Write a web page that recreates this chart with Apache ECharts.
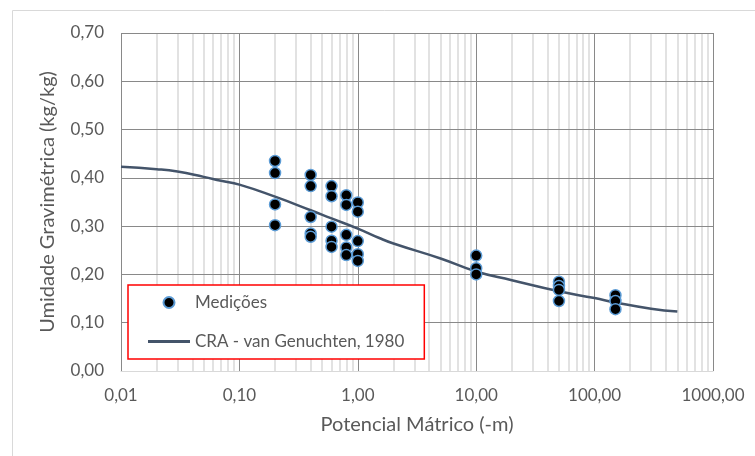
<!DOCTYPE html>
<html>
<head>
<meta charset="utf-8">
<script src="https://cdn.jsdelivr.net/npm/echarts@6/dist/echarts.min.js"></script>
<style>
    html, body { margin: 0; padding: 0; background: #fff; }
    #chart { width: 755px; height: 456px; }
</style>
</head>
<body>
<div id="chart"></div>
<script>
// medições (potencial mátrico x umidade)
var medX = [0.2, 0.2, 0.2, 0.2,
    0.4, 0.4, 0.4, 0.4, 0.4,
    0.6, 0.6, 0.6, 0.6, 0.6,
    0.8, 0.8, 0.8, 0.8, 0.8,
    1, 1, 1, 1, 1,
    10, 10, 10,
    50, 50, 50, 50,
    150, 150, 150];
var medY = [0.435, 0.41, 0.345, 0.302,
    0.406, 0.383, 0.319, 0.285, 0.278,
    0.383, 0.362, 0.299, 0.270, 0.257,
    0.364, 0.344, 0.282, 0.256, 0.240,
    0.349, 0.330, 0.269, 0.242, 0.228,
    0.239, 0.213, 0.200,
    0.185, 0.176, 0.168, 0.145,
    0.157, 0.145, 0.128];

// curva CRA - van Genuchten
var craX = [0.01, 0.02, 0.03, 0.05, 0.07, 0.1, 0.2, 0.4, 0.6, 1, 1.5, 2, 5, 10, 20, 50, 100, 150, 300, 500];
var craY = [0.423, 0.418, 0.413, 0.402, 0.394, 0.386, 0.361, 0.333, 0.316, 0.295, 0.276, 0.264, 0.233, 0.206, 0.188, 0.165, 0.151, 0.142, 0.129, 0.123];

// grade secundária
var decadas = [0.01, 0.1, 1, 10, 100];
var multiplicadores = [2, 3, 4, 5, 6, 7, 8, 9];

var corTexto = '#595959';
var fonte = 'Lato';

var linhasMenores = [];
for (var i = 0; i < decadas.length; i++) {
    for (var j = 0; j < multiplicadores.length; j++) {
        linhasMenores.push({ xAxis: decadas[i] * multiplicadores[j] });
    }
}

var medData = [];
for (var i = 0; i < medX.length; i++) medData.push([medX[i], medY[i]]);
var craData = [];
for (var i = 0; i < craX.length; i++) craData.push([craX[i], craY[i]]);

function fmt(v) {
    return v.toFixed(2).replace('.', ',');
}

var myChart = echarts.init(document.getElementById('chart'));

var option = {
    animation: false,
    textStyle: { fontFamily: fonte },
    graphic: [{
        type: 'rect',
        shape: { x: 12.5, y: 10.5, width: 800, height: 500 },
        style: { fill: 'none', stroke: '#d9d9d9', lineWidth: 1 },
        silent: true
    }],
    grid: {
        left: 121, top: 33, right: 42, bottom: 85,
        outerBoundsMode: 'none'
    },
    legend: {
        orient: 'vertical',
        left: 128,
        top: 285,
        padding: [9, 20, 9, 20],
        itemWidth: 42,
        itemHeight: 11,
        itemGap: 22,
        borderColor: '#ff0000',
        borderWidth: 1.5,
        backgroundColor: '#ffffff',
        textStyle: { color: corTexto, fontSize: 17, fontFamily: fonte },
        data: [
            { name: 'Medições' },
            { name: 'CRA - van Genuchten, 1980', icon: 'path://M0,0H42V3H0Z' }
        ]
    },
    xAxis: {
        type: 'log',
        logBase: 10,
        min: 0.01,
        max: 1000,
        z: 1,
        name: 'Potencial Mátrico (-m)',
        nameLocation: 'middle',
        nameGap: 44,
        nameTextStyle: { color: corTexto, fontSize: 20, fontFamily: fonte },
        axisLine: { show: true, lineStyle: { color: '#d9d9d9', width: 1 } },
        axisTick: { show: false },
        axisLabel: {
            color: corTexto, fontSize: 17, margin: 16,
            formatter: fmt
        },
        splitLine: { show: true, lineStyle: { color: '#898989', width: 1 } }
    },
    yAxis: {
        type: 'value',
        min: 0,
        max: 0.7,
        interval: 0.1,
        z: 1,
        name: 'Umidade Gravimétrica (kg/kg)',
        nameLocation: 'middle',
        nameGap: 63,
        nameTextStyle: { color: corTexto, fontSize: 20, fontFamily: fonte },
        axisLine: { show: false },
        axisTick: { show: false },
        axisLabel: {
            color: corTexto, fontSize: 17, margin: 17,
            formatter: fmt
        },
        splitLine: { show: true, showMinLine: false, lineStyle: { color: '#898989', width: 1 } }
    },
    series: [{
        name: 'grade',
        type: 'line',
        data: [],
        z: 0,
        markLine: {
            silent: true,
            z: 0,
            symbol: ['none', 'none'],
            label: { show: false },
            lineStyle: { color: '#d9d9d9', width: 1.5, type: 'solid' },
            data: linhasMenores
        }
    }, {
        name: 'CRA - van Genuchten, 1980',
        type: 'line',
        data: craData,
        smooth: true,
        showSymbol: false,
        symbol: 'none',
        z: 3,
        lineStyle: { color: '#44546A', width: 2.5 },
        itemStyle: { color: '#44546A' }
    }, {
        name: 'Medições',
        type: 'scatter',
        data: medData,
        symbol: 'circle',
        symbolSize: 11,
        z: 4,
        itemStyle: {
            color: '#000000',
            borderColor: '#5B9BD5',
            borderWidth: 1.5,
            opacity: 1
        }
    }]
};

myChart.setOption(option);
</script>
</body>
</html>
